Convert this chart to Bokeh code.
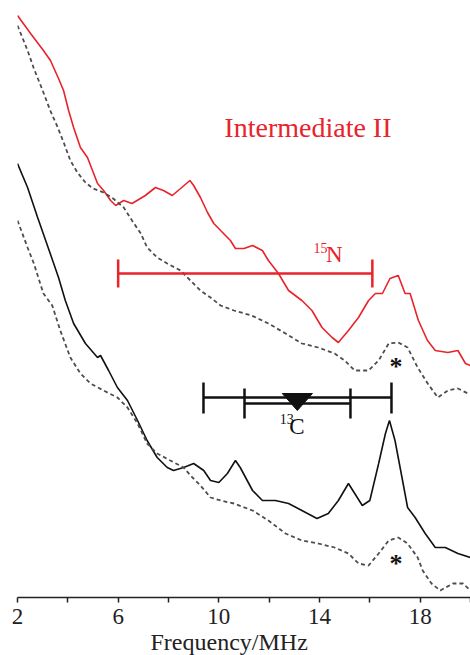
from bokeh.plotting import figure
from bokeh.models import Range1d, FixedTicker, Title
from bokeh.core.properties import value
from bokeh.embed import file_html
from bokeh.resources import INLINE

# ---- data (frequency in MHz, signal in arbitrary units, traces offset) ----
red_x = [2.0, 2.52, 3.03, 3.31, 3.63, 3.83, 4.03, 4.23, 4.5, 4.78, 4.98, 5.18, 5.42, 5.7, 5.9,
         6.22, 6.55, 6.75, 7.08, 7.48, 7.8, 8.15, 8.48, 8.85, 9.0, 9.27, 9.55, 9.8, 10.07, 10.46,
         10.66, 11.0, 11.34, 11.73, 11.97, 12.37, 12.77, 13.3, 13.7, 14.1, 14.5, 14.75, 15.15,
         15.55, 15.95, 16.22, 16.5, 16.8, 17.13, 17.4, 17.6, 17.93, 18.29, 18.6, 19.1, 19.5, 19.8, 20.0]
red_y = [582, 564, 547, 537, 519, 507, 487, 470, 450, 440, 427, 414, 407, 397, 392,
         397, 394, 397, 402, 410, 407, 402, 409, 417, 412, 400, 385, 374, 367, 357,
         349, 349, 352, 347, 337, 324, 307, 297, 287, 270, 260, 255, 267,
         280, 297, 304, 304, 319, 322, 304, 304, 277, 257, 247, 245, 247, 234, 232]

gray1_x = [2.0, 2.4, 2.65, 3.0, 3.3, 3.6, 3.85, 4.1, 4.38, 4.7, 5.0, 5.42, 5.8, 6.22, 6.55, 6.9,
           7.15, 7.55, 7.95, 8.48, 8.87, 9.27, 9.67, 10.07, 10.6, 11.3, 11.97, 12.65, 13.3, 13.95,
           14.6, 15.0, 15.4, 15.95, 16.35, 16.75, 17.13, 17.5, 17.9, 18.3, 18.7, 19.1, 19.5, 19.9, 20.0]
gray1_y = [572, 547, 529, 507, 487, 470, 454, 437, 425, 415, 409, 405, 399, 390, 377, 364,
           350, 340, 334, 327, 317, 307, 300, 292, 287, 282, 274, 264, 254, 250,
           244, 237, 227, 227, 237, 254, 255, 250, 230, 214, 200, 207, 209, 204, 204]

black_x = [2.0, 2.4, 2.8, 3.3, 3.63, 3.9, 4.23, 4.7, 5.18, 5.3, 5.62, 5.97, 6.37, 6.77, 7.15,
           7.55, 7.95, 8.2, 8.6, 9.0, 9.4, 9.67, 10.0, 10.34, 10.66, 10.85, 11.34, 11.73, 12.25,
           12.77, 13.3, 13.9, 14.35, 14.75, 15.15, 15.4, 15.7, 16.0, 16.35, 16.62, 16.78, 17.0,
           17.3, 17.5, 17.8, 18.2, 18.6, 19.0, 19.5, 20.0]
black_y = [434, 410, 380, 344, 320, 297, 274, 254, 240, 242, 227, 210, 197, 177, 157,
           140, 130, 127, 130, 134, 127, 117, 115, 124, 137, 130, 107, 97, 97,
           94, 87, 79, 84, 97, 114, 104, 92, 97, 134, 164, 177, 157,
           117, 90, 80, 64, 50, 50, 44, 40]

gray2_x = [2.0, 2.4, 2.65, 3.03, 3.38, 3.7, 4.1, 4.5, 4.9, 5.42, 5.97, 6.37, 6.77, 7.15, 7.55,
           8.07, 8.6, 8.95, 9.27, 9.67, 10.07, 10.6, 11.34, 11.97, 12.65, 13.3, 13.95, 14.6,
           15.15, 15.55, 15.95, 16.35, 16.75, 17.13, 17.5, 17.9, 18.1, 18.45, 18.8, 19.3, 19.7, 20.0]
gray2_y = [377, 350, 334, 304, 292, 267, 240, 224, 214, 207, 200, 190, 174, 154, 144,
           137, 130, 120, 112, 100, 97, 94, 87, 77, 64, 57, 54, 50,
           44, 34, 32, 44, 57, 60, 54, 40, 27, 14, 7, 14, 14, 7]

# annotation values
n15_range = [6.0, 16.1]
c13_outer = [9.39, 16.86]
c13_inner = [11.02, 15.23]
c13_center = 13.12
star_x = [17.04, 17.04]
star_y = [237, 40]
tick_values = [2, 6, 10, 14, 18]
minor_tick_values = [4, 8, 12, 16, 20]

RED = "#e8232b"
GRAY = "#4d4d4d"
BLACK = "#111111"
SERIF = "Liberation Serif"

p = figure(width=470, height=655, output_backend="svg", toolbar_location=None,
           x_range=Range1d(2, 20), y_range=Range1d(0, 597),
           min_border_left=17, min_border_right=0, min_border_top=0, min_border_bottom=58)
p.outline_line_color = None
p.grid.visible = False
p.yaxis.visible = False
p.background_fill_color = "white"

p.line(red_x, red_y, line_color=RED, line_width=1.6)
p.line(gray1_x, gray1_y, line_color=GRAY, line_width=1.8, line_dash="4 3")
p.line(black_x, black_y, line_color=BLACK, line_width=1.6)
p.line(gray2_x, gray2_y, line_color=GRAY, line_width=1.8, line_dash="4 3")

# 15N bar
p.segment(x0=[n15_range[0]], y0=[324], x1=[n15_range[1]], y1=[324], line_color=RED, line_width=2.5)
p.segment(x0=n15_range, y0=[310, 310], x1=n15_range, y1=[338, 338], line_color=RED, line_width=2.5)

# 13C bars
p.segment(x0=[c13_outer[0]], y0=[200], x1=[c13_outer[1]], y1=[200], line_color=BLACK, line_width=2.5)
p.segment(x0=c13_outer, y0=[184, 184], x1=c13_outer, y1=[215, 215], line_color=BLACK, line_width=2.5)
p.segment(x0=[c13_inner[0]], y0=[194], x1=[c13_inner[1]], y1=[194], line_color=BLACK, line_width=2.5)
p.segment(x0=c13_inner, y0=[179, 179], x1=c13_inner, y1=[209, 209], line_color=BLACK, line_width=2.5)
tri_half = 0.6
p.patch([c13_center - tri_half, c13_center + tri_half, c13_center], [204, 204, 187], color=BLACK)

# texts
p.text([13.54], [470], text=["Intermediate II"], text_font=value(SERIF), text_font_size="28px",
       text_color=RED, text_align="center", text_baseline="middle")
p.text([13.76], [350], text=["15"], text_font=value(SERIF), text_font_size="14px",
       text_color=RED, text_align="left", text_baseline="middle")
p.text([14.26], [343], text=["N"], text_font=value(SERIF), text_font_size="23px",
       text_color=RED, text_align="left", text_baseline="middle")
p.text([12.42], [179], text=["13"], text_font=value(SERIF), text_font_size="14px",
       text_color=BLACK, text_align="left", text_baseline="middle")
p.text([12.8], [171], text=["C"], text_font=value(SERIF), text_font_size="23px",
       text_color=BLACK, text_align="left", text_baseline="middle")
p.text(star_x, [y - 6 for y in star_y], text=["*", "*"], text_font=value(SERIF), text_font_size="26px",
       text_font_style="bold", text_color=BLACK, text_align="center", text_baseline="middle")

ax = p.xaxis[0]
ax.ticker = FixedTicker(ticks=tick_values, minor_ticks=minor_tick_values)
ax.major_tick_in = 0
ax.major_tick_out = 5
ax.minor_tick_in = 0
ax.minor_tick_out = 5
ax.axis_line_width = 1.5
ax.major_tick_line_width = 1.5
ax.minor_tick_line_width = 1.5
ax.axis_line_color = "#222222"
ax.major_tick_line_color = "#222222"
ax.minor_tick_line_color = "#222222"
ax.major_label_text_font = SERIF
ax.major_label_text_font_size = "23px"
ax.major_label_text_color = "#222222"
ax.major_label_standoff = 6

p.add_layout(Title(text="Frequency/MHz", text_font=SERIF, text_font_size="24px",
                   text_font_style="normal", text_color="#222222", align="left",
                   offset=133, standoff=0), "below")

open("out.html", "w").write(file_html(p, INLINE))
